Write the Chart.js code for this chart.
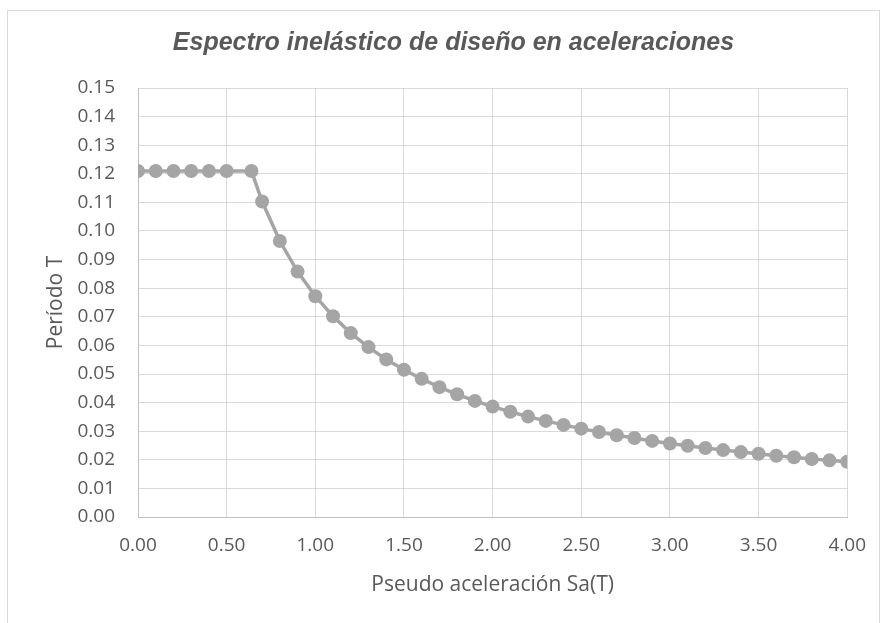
<!DOCTYPE html>
<html>
<head>
<meta charset="utf-8">
<script src="https://cdn.jsdelivr.net/npm/chart.js@4/dist/chart.umd.min.js"></script>
<style>
html,body{margin:0;padding:0;background:#fff;overflow:hidden;}
#wrap{position:relative;width:883px;height:623px;}
#frame{position:absolute;left:7px;top:10px;width:873px;height:660px;border:1px solid #d9d9d9;box-sizing:border-box;}
canvas{position:absolute;left:0;top:0;}
</style>
</head>
<body>
<div id="wrap">
<div id="frame"></div>
<canvas id="chart" width="883" height="623"></canvas>
</div>
<script>
const chartTitle="Espectro inelástico de diseño en aceleraciones";
const xTitle="Pseudo aceleración Sa(T)";
const yTitle="Período T";

// Sa(T) values (x) and T values (y)
const sa=[0,0.1,0.2,0.3,0.4,0.5,0.64,0.7,0.8,0.9,1.0,1.1,1.2,1.3,1.4,1.5,1.6,1.7,1.8,1.9,2.0,2.1,2.2,2.3,2.4,2.5,2.6,2.7,2.8,2.9,3.0,3.1,3.2,3.3,3.4,3.5,3.6,3.7,3.8,3.9,4.0];
const periodo=[0.121,0.121,0.121,0.121,0.121,0.121,0.121,0.1103,0.0965,0.0858,0.0772,0.0702,0.0643,0.0594,0.0551,0.0515,0.0483,0.0454,0.0429,0.0406,0.0386,0.0368,0.0351,0.0336,0.0322,0.0309,0.0297,0.0286,0.0276,0.0266,0.0257,0.0249,0.0241,0.0234,0.0227,0.0221,0.0214,0.0209,0.0203,0.0198,0.0193];

const xTicks={min:0,max:4,step:0.5};
const yTicks={min:0,max:0.15,step:0.01};

const points=sa.map((x,i)=>({x:x,y:periodo[i]}));

const txt="#595959";
const grid="#d9d9d9";
const sans="'Open Sans', 'Noto Sans', sans-serif";
const tickFont={family:sans,size:19};

new Chart(document.getElementById("chart"),{
type:"scatter",
data:{
datasets:[{
data:points,
showLine:true,
borderColor:"#a5a5a5",
backgroundColor:"#a5a5a5",
borderWidth:3.5,
pointRadius:7,
pointHoverRadius:7,
pointBorderWidth:0
}]
},
options:{
responsive:false,
animation:false,
layout:{padding:{left:28,right:4,top:0,bottom:0}},
plugins:{
legend:{display:false},
tooltip:{enabled:false},
title:{
display:true,
text:chartTitle,
color:txt,
font:{family:"'Liberation Sans', Arial, sans-serif",size:25,style:"italic",weight:"bold"},
padding:{top:28,bottom:30}
}
},
scales:{
x:{
type:"linear",
min:xTicks.min,
max:xTicks.max,
ticks:{stepSize:xTicks.step,color:txt,font:tickFont,padding:17,
callback:v=>Number(v).toFixed(2)},
grid:{color:grid,drawTicks:false},
border:{color:"#bfbfbf",width:1},
title:{display:true,text:xTitle,color:txt,font:{family:sans,size:21},padding:{top:0,bottom:25}},
afterFit:s=>{s.height=106;}
},
y:{
type:"linear",
min:yTicks.min,
max:yTicks.max,
ticks:{stepSize:yTicks.step,color:txt,font:tickFont,padding:23,
callback:v=>Number(v).toFixed(2)},
grid:{color:grid,drawTicks:false},
border:{color:"#bfbfbf",width:1},
title:{display:true,text:yTitle,color:txt,font:{family:sans,size:21},padding:{top:15,bottom:0}},
afterFit:s=>{s.width=110;}
},
yRight:{
type:"linear",
position:"right",
display:true,
ticks:{display:false},
grid:{display:false,drawTicks:false},
border:{display:false},
afterFit:s=>{s.width=31;}
}
}
}
});
</script>
</body>
</html>
